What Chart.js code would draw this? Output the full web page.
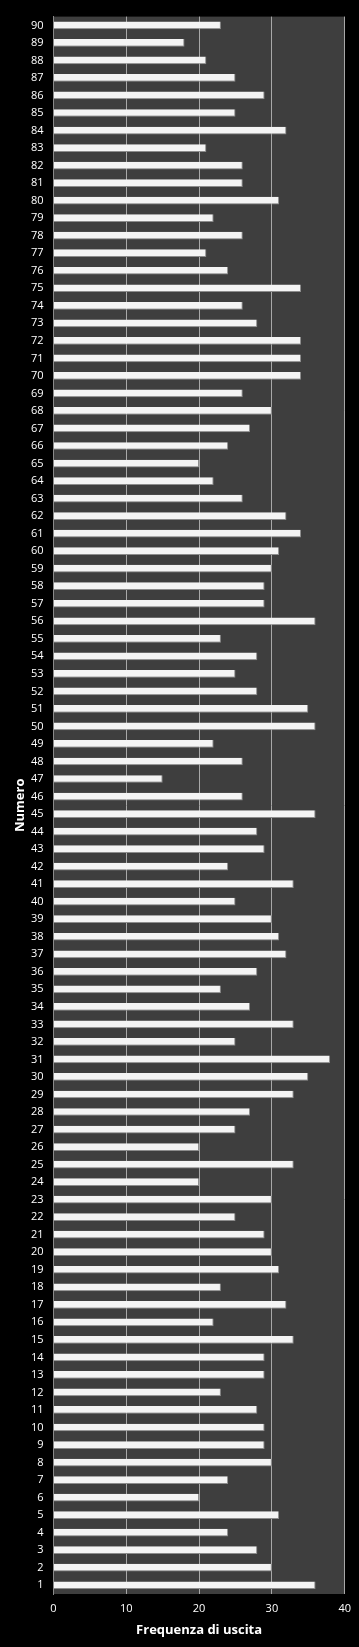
<!DOCTYPE html>
<html>
<head>
<meta charset="utf-8">
<script src="https://cdn.jsdelivr.net/npm/chart.js@4/dist/chart.umd.min.js"></script>
<style>
  html, body { margin: 0; padding: 0; background: #000; }
  #wrap { width: 359px; height: 1647px; position: relative; }
</style>
</head>
<body>
<div id="wrap"><canvas id="freqChart"></canvas></div>
<script>
// Numeri 1..90
const numeri = [];
for (let n = 1; n <= 90; n++) numeri.push(String(n));

// Frequenza di uscita, numbers 1..90
const frequenze = [
    36, 30, 28, 24, 31, 20, 24, 30, 29, 29,
    28, 23, 29, 29, 33, 22, 32, 23, 31, 30,
    29, 25, 30, 20, 33, 20, 25, 27, 33, 35,
    38, 25, 33, 27, 23, 28, 32, 31, 30, 25,
    33, 24, 29, 28, 36, 26, 15, 26, 22, 36,
    35, 28, 25, 28, 23, 36, 29, 29, 30, 31,
    34, 32, 26, 22, 20, 24, 27, 30, 26, 34,
    34, 34, 28, 26, 34, 24, 21, 26, 22, 31,
    26, 26, 21, 32, 25, 29, 25, 21, 18, 23
];

const xTicks = [0, 10, 20, 30, 40];

// Dark grey plot background
const plotBg = {
    id: 'plotBg',
    beforeDraw(chart) {
        const { ctx, chartArea: a } = chart;
        ctx.save();
        ctx.fillStyle = '#3e3e3e';
        ctx.fillRect(a.left, a.top, a.right - a.left, a.bottom - a.top);
        ctx.restore();
    }
};

// White bar with a soft grey shade at the bottom
function barFill(context) {
    const chart = context.chart;
    const el = context.element;
    if (!el || el.y === undefined || !chart.chartArea) return '#f4f4f4';
    const h = el.height || 7;
    const g = chart.ctx.createLinearGradient(0, el.y - h / 2, 0, el.y + h / 2);
    g.addColorStop(0, '#e6e6e6');
    g.addColorStop(0.3, '#ffffff');
    g.addColorStop(0.7, '#f6f6f6');
    g.addColorStop(1, '#b8b8b8');
    return g;
}

const ctx = document.getElementById('freqChart').getContext('2d');
new Chart(ctx, {
    type: 'bar',
    data: {
        labels: numeri,
        datasets: [{
            data: frequenze,
            backgroundColor: barFill,
            borderColor: '#8c8c8c',
            borderWidth: { top: 0, left: 0, right: 1, bottom: 1 },
            borderSkipped: 'start',
            categoryPercentage: 1,
            barPercentage: 0.44
        }]
    },
    options: {
        indexAxis: 'y',
        responsive: true,
        maintainAspectRatio: false,
        animation: false,
        layout: { padding: { top: 13, right: 13.5, left: 12, bottom: 9 } },
        plugins: {
            legend: { display: false },
            tooltip: { enabled: false }
        },
        scales: {
            x: {
                min: 0,
                max: 40,
                afterBuildTicks: scale => { scale.ticks = xTicks.map(v => ({ value: v })); },
                afterFit: scale => { scale.height = 44; },
                grid: { color: '#a8a8a8', lineWidth: 1, drawTicks: false },
                border: { display: false },
                ticks: {
                    color: '#ffffff',
                    padding: 8,
                    font: { family: 'Open Sans', size: 11 }
                },
                title: {
                    display: true,
                    text: 'Frequenza di uscita',
                    color: '#ffffff',
                    padding: { top: 2, bottom: 0 },
                    font: { family: 'Open Sans', size: 13, weight: 'bold' }
                }
            },
            y: {
                reverse: true,
                afterFit: scale => { scale.width = 41.5; },
                grid: { display: false, drawTicks: false },
                border: { display: true, color: '#8a8a8a', width: 1 },
                ticks: {
                    color: '#ffffff',
                    padding: 10,
                    autoSkip: false,
                    font: { family: 'Open Sans', size: 11 }
                },
                title: {
                    display: true,
                    text: 'Numero',
                    color: '#ffffff',
                    padding: { top: 0, bottom: 0 },
                    font: { family: 'Open Sans', size: 13, weight: 'bold' }
                }
            }
        }
    },
    plugins: [plotBg]
});
</script>
</body>
</html>
